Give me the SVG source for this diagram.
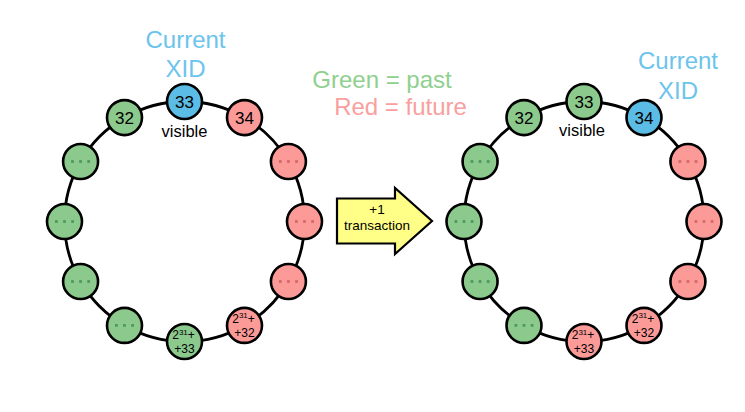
<svg xmlns="http://www.w3.org/2000/svg" width="745" height="412" viewBox="0 0 745 412">
<style>
text{font-family:"Liberation Sans",Arial,sans-serif;text-anchor:middle}
.n circle{stroke:#000;stroke-width:2.6}
.g circle{fill:#8cc98c}
.r circle{fill:#fc9a98}
.b circle{fill:#5bbce6}
.num{font-size:17px;fill:#000}
.sm{font-size:12px;fill:#000}
.sup{font-size:8px}
.dg use{fill:#4f9a5c}
.dr use{fill:#d46a6a}
.lbl{font-size:16.5px;fill:#000}
.cur{font-size:24px;fill:#6cc4ec}
.conn path{fill:none;stroke:#000;stroke-width:2.8}
</style>
<defs>
<g id="dots"><rect x="-9.5" y="-1.4" width="2.8" height="2.8"/><rect x="-1.4" y="-1.4" width="2.8" height="2.8"/><rect x="6.7" y="-1.4" width="2.8" height="2.8"/></g>
</defs>
<rect width="745" height="412" fill="#fff"/>
<g id="connectors" class="conn">
<path d="M184.5,101.5 A120,120 0 0 1 244.5,117.58"/>
<path d="M244.5,117.58 A120,120 0 0 1 288.42,161.5"/>
<path d="M288.42,161.5 A120,120 0 0 1 304.5,221.5"/>
<path d="M304.5,221.5 A120,120 0 0 1 288.42,281.5"/>
<path d="M288.42,281.5 A120,120 0 0 1 244.5,325.42"/>
<path d="M244.5,325.42 A120,120 0 0 1 184.5,341.5"/>
<path d="M184.5,341.5 A120,120 0 0 1 124.5,325.42"/>
<path d="M124.5,325.42 A120,120 0 0 1 80.58,281.5"/>
<path d="M80.58,281.5 A120,120 0 0 1 64.5,221.5"/>
<path d="M64.5,221.5 A120,120 0 0 1 80.58,161.5"/>
<path d="M80.58,161.5 A120,120 0 0 1 124.5,117.58"/>
<path d="M124.5,117.58 A120,120 0 0 1 184.5,101.5"/>
<path d="M584,101.5 A120,120 0 0 1 644,117.58"/>
<path d="M644,117.58 A120,120 0 0 1 687.92,161.5"/>
<path d="M687.92,161.5 A120,120 0 0 1 704,221.5"/>
<path d="M704,221.5 A120,120 0 0 1 687.92,281.5"/>
<path d="M687.92,281.5 A120,120 0 0 1 644,325.42"/>
<path d="M644,325.42 A120,120 0 0 1 584,341.5"/>
<path d="M584,341.5 A120,120 0 0 1 524,325.42"/>
<path d="M524,325.42 A120,120 0 0 1 480.08,281.5"/>
<path d="M480.08,281.5 A120,120 0 0 1 464,221.5"/>
<path d="M464,221.5 A120,120 0 0 1 480.08,161.5"/>
<path d="M480.08,161.5 A120,120 0 0 1 524,117.58"/>
<path d="M524,117.58 A120,120 0 0 1 584,101.5"/>
</g>

<!-- Left ring -->
<g id="L33" class="n b" transform="translate(184.5,101.5)"><circle r="17.5"/><text class="num" y="6.5">33</text></g>
<g id="L34" class="n r" transform="translate(244.5,117.58)"><circle r="17.5"/><text class="num" y="6.5">34</text></g>
<g id="L35" class="n r dr" transform="translate(288.42,161.5)"><circle r="17.5"/><use href="#dots"/></g>
<g id="L36" class="n r dr" transform="translate(304.5,221.5)"><circle r="17.5"/><use href="#dots"/></g>
<g id="L37" class="n r dr" transform="translate(288.42,281.5)"><circle r="17.5"/><use href="#dots"/></g>
<g id="L38" class="n r" transform="translate(244.5,325.42)"><circle r="17.5"/><text class="sm" x="-1" y="-2.5">2<tspan class="sup" dy="-4.5">31</tspan><tspan dy="4.5">+</tspan></text><text class="sm" x="0" y="11.5">+32</text></g>
<g id="L39" class="n g" transform="translate(184.5,341.5)"><circle r="17.5"/><text class="sm" x="-1" y="-2.5">2<tspan class="sup" dy="-4.5">31</tspan><tspan dy="4.5">+</tspan></text><text class="sm" x="0" y="11.5">+33</text></g>
<g id="L40" class="n g dg" transform="translate(124.5,325.42)"><circle r="17.5"/><use href="#dots"/></g>
<g id="L41" class="n g dg" transform="translate(80.58,281.5)"><circle r="17.5"/><use href="#dots"/></g>
<g id="L42" class="n g dg" transform="translate(64.5,221.5)"><circle r="17.5"/><use href="#dots"/></g>
<g id="L43" class="n g dg" transform="translate(80.58,161.5)"><circle r="17.5"/><use href="#dots"/></g>
<g id="L32" class="n g" transform="translate(124.5,117.58)"><circle r="17.5"/><text class="num" y="6.5">32</text></g>
<text class="lbl" x="184.5" y="137">visible</text>
<text class="cur" x="185.5" y="48">Current</text>
<text class="cur" x="185.5" y="77">XID</text>

<!-- Right ring -->
<g id="R33" class="n g" transform="translate(584,101.5)"><circle r="17.5"/><text class="num" y="6.5">33</text></g>
<g id="R34" class="n b" transform="translate(644,117.58)"><circle r="17.5"/><text class="num" y="6.5">34</text></g>
<g id="R35" class="n r dr" transform="translate(687.92,161.5)"><circle r="17.5"/><use href="#dots"/></g>
<g id="R36" class="n r dr" transform="translate(704,221.5)"><circle r="17.5"/><use href="#dots"/></g>
<g id="R37" class="n r dr" transform="translate(687.92,281.5)"><circle r="17.5"/><use href="#dots"/></g>
<g id="R38" class="n r" transform="translate(644,325.42)"><circle r="17.5"/><text class="sm" x="-1" y="-2.5">2<tspan class="sup" dy="-4.5">31</tspan><tspan dy="4.5">+</tspan></text><text class="sm" x="0" y="11.5">+32</text></g>
<g id="R39" class="n r" transform="translate(584,341.5)"><circle r="17.5"/><text class="sm" x="-1" y="-2.5">2<tspan class="sup" dy="-4.5">31</tspan><tspan dy="4.5">+</tspan></text><text class="sm" x="0" y="11.5">+33</text></g>
<g id="R40" class="n g dg" transform="translate(524,325.42)"><circle r="17.5"/><use href="#dots"/></g>
<g id="R41" class="n g dg" transform="translate(480.08,281.5)"><circle r="17.5"/><use href="#dots"/></g>
<g id="R42" class="n g dg" transform="translate(464,221.5)"><circle r="17.5"/><use href="#dots"/></g>
<g id="R43" class="n g dg" transform="translate(480.08,161.5)"><circle r="17.5"/><use href="#dots"/></g>
<g id="R32" class="n g" transform="translate(524,117.58)"><circle r="17.5"/><text class="num" y="6.5">32</text></g>
<text class="lbl" x="582" y="136">visible</text>
<text class="cur" x="678" y="69">Current</text>
<text class="cur" x="678" y="99">XID</text>

<!-- Legend -->
<text x="382" y="88" style="font-size:24px;fill:#8fd08f">Green = past</text>
<text x="400.5" y="115" style="font-size:24px;fill:#f9a09e">Red = future</text>

<!-- Arrow -->
<g id="arrow">
<path d="M337,198.5 H395 V188 L432,221 L395,254 V243.5 H337 Z" fill="#ffff88" stroke="#000" stroke-width="2.2" stroke-linejoin="miter"/>
<text x="377" y="213.5" style="font-size:13.5px;fill:#000">+1</text>
<text x="377" y="230" style="font-size:13.5px;fill:#000">transaction</text>
</g>
</svg>
